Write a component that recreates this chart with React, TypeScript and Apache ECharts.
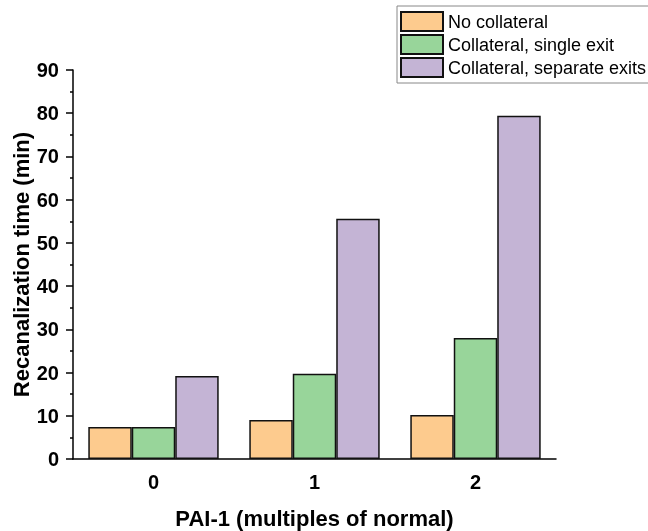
import React, { useEffect, useRef } from "react";
import * as echarts from "echarts";

const categories = ["0", "1", "2"];
const seriesNames = ["No collateral", "Collateral, single exit", "Collateral, separate exits"];
const noCollateral = [7.4, 9.0, 10.2];
const singleExit = [7.4, 19.7, 28.0];
const separateExits = [19.2, 55.6, 79.4];
const colors = ["#FDCB8E", "#98D59A", "#C4B4D5"];
const FONT = "Arial, 'Liberation Sans', sans-serif";

export default function App() {
  const ref = useRef<HTMLDivElement>(null);
  useEffect(() => {
    if (!ref.current) return;
    const chart = echarts.init(ref.current, undefined, { renderer: "svg" });
    const values = [noCollateral, singleExit, separateExits];
    chart.setOption({
      animation: false,
      textStyle: { fontFamily: FONT },
      grid: { left: 73, right: 92, top: 70, bottom: 72, containLabel: false, outerBoundsMode: "none" },
      legend: {
        orient: "vertical",
        left: 397,
        top: 6,
        width: 249,
        itemWidth: 42,
        itemHeight: 19,
        itemGap: 2,
        padding: [5, 3, 5, 3],
        borderColor: "#888",
        borderWidth: 1,
        icon: "rect",
        textStyle: { fontSize: 18, color: "#000", fontFamily: FONT, padding: [0, 0, 0, 0] },
        data: seriesNames,
      },
      xAxis: [
        {
          type: "category",
          data: categories,
          axisLine: { lineStyle: { color: "#000", width: 1.5 } },
          axisTick: { alignWithLabel: true, length: 7, lineStyle: { color: "#000", width: 1.5 } },
          axisLabel: { fontSize: 20, fontWeight: "bold", color: "#000", margin: 13, fontFamily: FONT },
          name: "PAI-1 (multiples of normal)",
          nameLocation: "middle",
          nameGap: 48,
          nameMoveOverlap: false,
          nameTextStyle: { fontSize: 22, fontWeight: "bold", color: "#000", fontFamily: FONT },
        },
        {
          type: "category",
          data: categories,
          position: "bottom",
          axisLine: { show: false },
          axisTick: { length: 3, lineStyle: { color: "#000", width: 1.5 } },
          axisLabel: { show: false },
        },
      ],
      yAxis: {
        type: "value",
        min: 0,
        max: 90,
        interval: 10,
        axisLine: { show: true, lineStyle: { color: "#000", width: 1.5 } },
        axisTick: { show: true, length: 7, lineStyle: { color: "#000", width: 1.5 } },
        minorTick: { show: true, splitNumber: 2, length: 3, lineStyle: { color: "#000", width: 1.5 } },
        splitLine: { show: false },
        axisLabel: { fontSize: 20, fontWeight: "bold", color: "#000", margin: 14, fontFamily: FONT },
        name: "Recanalization time (min)",
        nameLocation: "middle",
        nameGap: 41,
        nameMoveOverlap: false,
        nameTextStyle: { fontSize: 22, fontWeight: "bold", color: "#000", fontFamily: FONT },
      },
      series: seriesNames.map((name, i) => ({
        name,
        type: "bar",
        data: values[i],
        barGap: "0%",
        barCategoryGap: "19%",
        itemStyle: { color: colors[i], borderColor: "#111", borderWidth: 1.5 },
      })),
    });
    return () => chart.dispose();
  }, []);
  return (
    <div
      ref={ref}
      style={{ position: "fixed", left: 0, top: 0, width: 648, height: 531 }}
    />
  );
}
